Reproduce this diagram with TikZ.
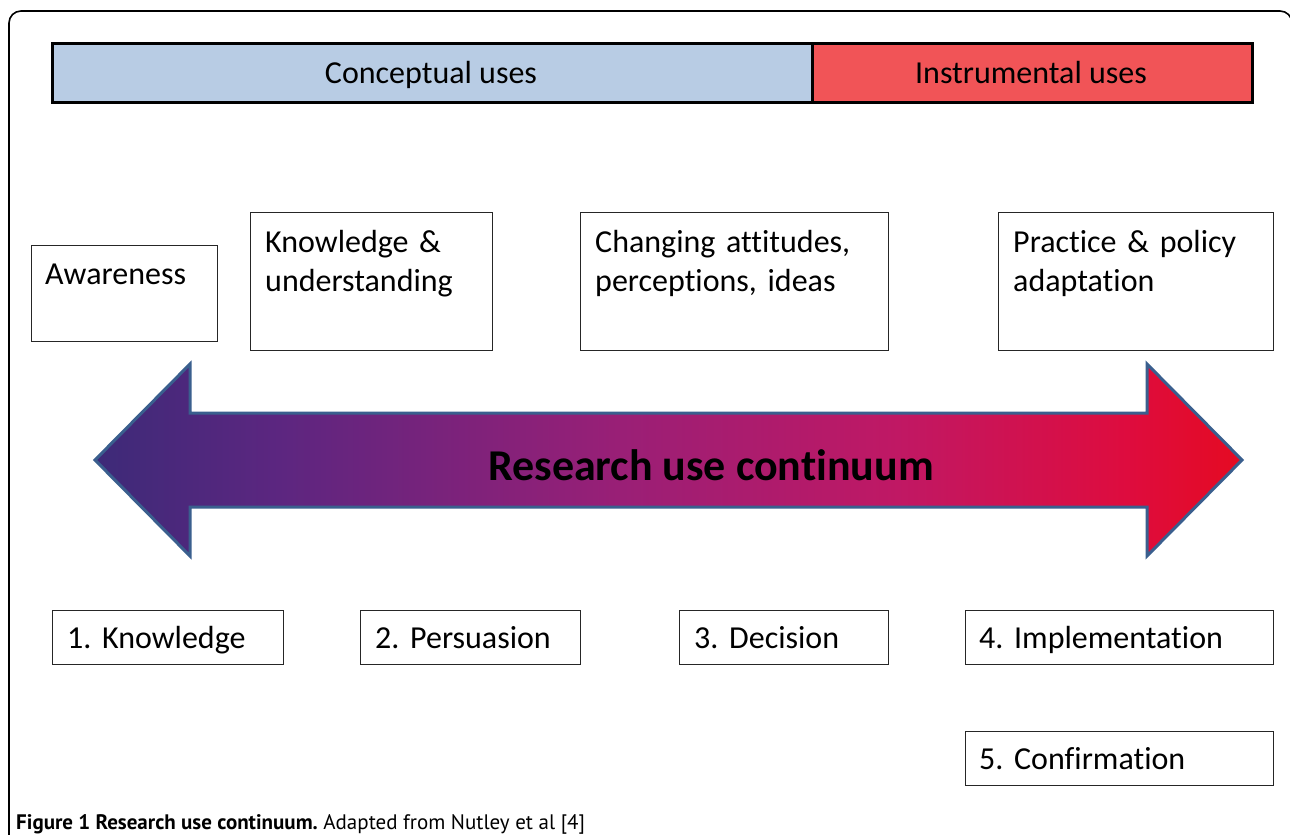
\documentclass[tikz,border=0pt]{standalone}
\usepackage{fontspec}
\setmainfont{Carlito}[Ligatures=CommonOff]
\newfontfamily\capfont{PT Sans}
\usetikzlibrary{calc}
\frenchspacing

% colours of the figure
\definecolor{conceptblue}{HTML}{B8CCE4}
\definecolor{instrred}{HTML}{F15457}
\definecolor{arrowedge}{HTML}{3A5F8E}
\definecolor{cA}{HTML}{3D2A78}
\definecolor{cB}{HTML}{5C2680}
\definecolor{cC}{HTML}{9A1F76}
\definecolor{cD}{HTML}{C01864}
\definecolor{cE}{HTML}{DE0C3E}
\definecolor{cF}{HTML}{E50B22}

% left-to-right shading for the continuum arrow (path spans 25bp..75bp)
\pgfdeclarehorizontalshading{continuum}{100bp}{%
  color(0bp)=(cA); color(25bp)=(cA); color(33bp)=(cB); color(48bp)=(cC);
  color(60bp)=(cD); color(70bp)=(cE); color(75bp)=(cF); color(100bp)=(cF)}

\begin{document}
\begin{tikzpicture}[x=1pt,y=-1pt,
  usebar/.style={draw=black, line width=3pt, inner sep=0pt, rectangle},
  bartext/.style={anchor=base, inner sep=0pt, font=\fontsize{32}{39}\selectfont},
  stagebox/.style={draw=black!85, line width=1.3pt, rectangle, inner sep=0pt, anchor=north west},
  boxtext/.style={anchor=base west, inner sep=0pt, text width=290pt, align=left,
                  font=\fontsize{32}{39}\selectfont},
]
\useasboundingbox (0,0) rectangle (1290,835);
\fill[white] (0,0) rectangle (1290,835);

% outer frame with rounded corners
\draw[line width=1.6pt] (9,840) -- (9,23) arc[start angle=180, end angle=270, radius=12]
  -- (1280,11) arc[start angle=270, end angle=360, radius=12] -- (1292,840);

% conceptual / instrumental bar
\node[usebar, fill=conceptblue, minimum width=760pt, minimum height=59pt, anchor=north west]
  (concept) at (51,42) {};
\node[usebar, fill=instrred, minimum width=440pt, minimum height=59pt, anchor=north west]
  (instr) at (811,42) {};
\node[bartext] (conceptlbl) at (431,83) {Conceptual uses};
\node[bartext] (instrlbl) at (1031,83) {Instrumental uses};

% upper row of use boxes
\node[stagebox, minimum width=186pt, minimum height=96pt] (aware) at (31,245) {};
\node[boxtext] (awaretxt) at ($(aware.north west)+(14,39)$) {Awareness};
\node[stagebox, minimum width=242pt, minimum height=138pt] (know) at (250,212) {};
\node[boxtext] (knowtxt) at ($(know.north west)+(15,40)$) {Knowledge \&\\understanding};
\node[stagebox, minimum width=308pt, minimum height=138pt] (attit) at (580,212) {};
\node[boxtext] (attittxt) at ($(attit.north west)+(15,40)$) {Changing attitudes,\\perceptions, ideas};
\node[stagebox, minimum width=275pt, minimum height=138pt] (pract) at (998,212) {};
\node[boxtext] (practtxt) at ($(pract.north west)+(15,40)$) {Practice \& policy\\adaptation};

% the double-headed continuum arrow
\coordinate (ltip) at (95,460);
\coordinate (rtip) at (1242,460);
\shade[shading=continuum, draw=arrowedge, line width=3pt, line join=miter]
  (ltip) -- (190,364) -- (190,413) -- (1147,413) -- (1147,364) -- (rtip)
  -- (1147,556) -- (1147,507) -- (190,507) -- (190,556) -- cycle;
\node[anchor=base, inner sep=0pt, font=\fontsize{44}{50}\selectfont\bfseries]
  (cont) at (711,480) {Research use continuum};

% lower row of stages
\node[stagebox, minimum width=231pt, minimum height=54pt] (s1) at (52,610) {};
\node[boxtext] (s1t) at ($(s1.north west)+(15,38)$) {1. Knowledge};
\node[stagebox, minimum width=220pt, minimum height=54pt] (s2) at (360,610) {};
\node[boxtext] (s2t) at ($(s2.north west)+(15,38)$) {2. Persuasion};
\node[stagebox, minimum width=209pt, minimum height=54pt] (s3) at (679,610) {};
\node[boxtext] (s3t) at ($(s3.north west)+(15,38)$) {3. Decision};
\node[stagebox, minimum width=308pt, minimum height=54pt] (s4) at (965,610) {};
\node[boxtext] (s4t) at ($(s4.north west)+(14,38)$) {4. Implementation};
\node[stagebox, minimum width=308pt, minimum height=54pt] (s5) at (965,731) {};
\node[boxtext] (s5t) at ($(s5.north west)+(14,38)$) {5. Confirmation};

% caption
\node[anchor=base west, inner sep=0pt, font=\capfont\fontsize{21}{24}\selectfont]
  (caption) at (16,829) {\textbf{Figure 1 Research use continuum.} Adapted from Nutley et al [4]};
\end{tikzpicture}
\end{document}
